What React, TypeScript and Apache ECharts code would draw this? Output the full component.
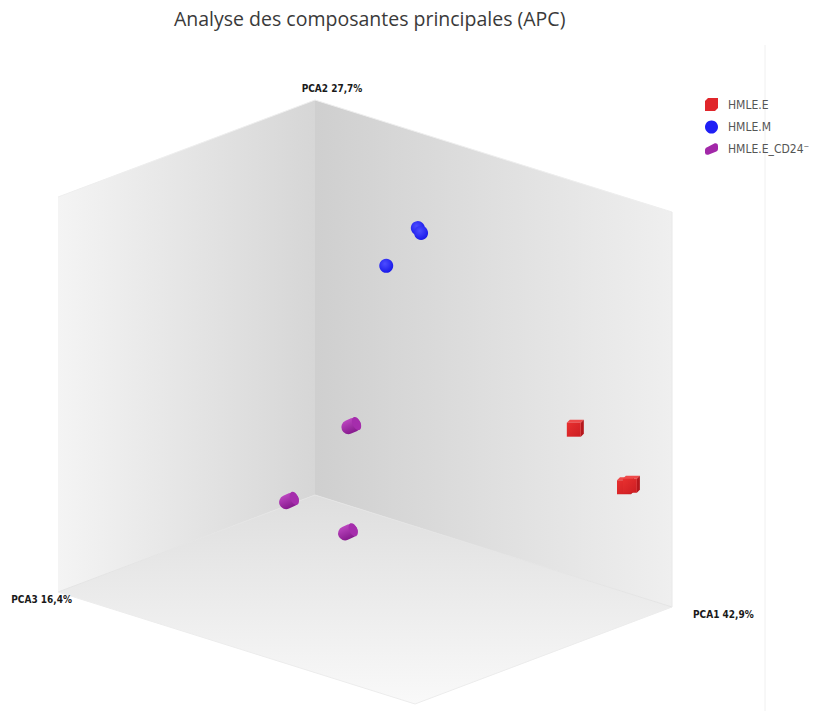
import React, { useEffect, useRef } from 'react';
import * as echarts from 'echarts';

// ---- data ----
const seriesNames = ['HMLE.E', 'HMLE.M', 'HMLE.E_CD24⁻'];
const seriesColors = ['#e0262b', '#1f1ff5', '#a228a8'];
// PCA scores: [PCA1, PCA2, PCA3]
const hmleE = [
  [35.5, 0.7, -10],
  [38.1, -9.7, -17.5],
  [37.7, -10.0, -19],
];
const hmleM = [
  [0.3, 23.7, -10],
  [2.2, 23.5, -9],
  [-1.0, 19.0, -5],
];
const hmleCD24 = [
  [-20.4, -12.4, -15],
  [-25.7, -22.7, -7.5],
  [1.9, -17.9, 5],
];
const axisNames = ['PCA1 42,9%', 'PCA2 27,7%', 'PCA3 16,4%'];
const axisMin = [-40, -30, -25];
const axisMax = [40, 30, 25];
const titleText = 'Analyse des composantes principales (APC)';

// ---- layout of the orthographic projection (plane units = px) ----
const ORIGIN = [315, 495];
const V1 = [357, 112];
const V2 = [0, -395];
const V3 = [-257, 97];

function project(p: number[]) {
  const u = p.map((v, i) => (v - axisMin[i]) / (axisMax[i] - axisMin[i]));
  return [
    ORIGIN[0] + u[0] * V1[0] + u[1] * V2[0] + u[2] * V3[0],
    ORIGIN[1] + u[0] * V1[1] + u[1] * V2[1] + u[2] * V3[1],
  ];
}

const lg = (x2: number, y2: number, c1: string, c2: string) =>
  new echarts.graphic.LinearGradient(0, 0, x2, y2, [
    { offset: 0, color: c1 },
    { offset: 1, color: c2 },
  ]);

function pt(api: any) {
  return api.coord(project([api.value(0), api.value(1), api.value(2)]));
}

function cubeItem(_p: any, api: any) {
  const [x, y] = pt(api);
  return {
    type: 'group',
    children: [
      { type: 'polygon', shape: { points: [[x - 8, y - 5], [x - 5, y - 8], [x + 9, y - 8], [x + 6, y - 5]] }, style: { fill: '#ee4a4a' } },
      { type: 'polygon', shape: { points: [[x + 6, y - 5], [x + 9, y - 8], [x + 9, y + 6], [x + 6, y + 9]] }, style: { fill: '#b5171c' } },
      { type: 'rect', shape: { x: x - 8, y: y - 5, width: 14, height: 14 }, style: { fill: lg(1, 1, '#e8302f', '#cc1d22') } },
    ],
  };
}

function sphereItem(_p: any, api: any) {
  const [x, y] = pt(api);
  return {
    type: 'circle',
    shape: { cx: x, cy: y, r: 7 },
    style: {
      fill: new echarts.graphic.RadialGradient(0.4, 0.35, 0.75, [
        { offset: 0, color: '#4c4cff' },
        { offset: 1, color: '#1212e6' },
      ]),
    },
  };
}

function cylinderItem(_p: any, api: any) {
  const [x, y] = pt(api);
  return {
    type: 'group',
    x,
    y,
    rotation: 0.42,
    children: [
      { type: 'rect', shape: { x: -10, y: -7, width: 20, height: 14, r: 7 }, style: { fill: lg(0, 1, '#bb45bf', '#861a8d') } },
      { type: 'ellipse', shape: { cx: 6, cy: 0, rx: 4, ry: 7 }, style: { fill: '#a52dac' } },
    ],
  };
}

function boxItem(_p: any, api: any) {
  const c = (p: number[]) => api.coord(project(p));
  const [a0, b0, c0] = axisMin;
  const [a1, b1, c1] = axisMax;
  const O = c([a0, b0, c0]);
  const X = c([a1, b0, c0]);
  const Y = c([a0, b1, c0]);
  const Z = c([a0, b0, c1]);
  const XY = c([a1, b1, c0]);
  const YZ = c([a0, b1, c1]);
  const XZ = c([a1, b0, c1]);
  const line = (p: number[], q: number[], stroke: string) => ({
    type: 'line',
    shape: { x1: p[0], y1: p[1], x2: q[0], y2: q[1] },
    style: { stroke, lineWidth: 1 },
  });
  return {
    type: 'group',
    children: [
      { type: 'polygon', shape: { points: [O, Z, YZ, Y] }, style: { fill: lg(1, 0, '#f4f4f4', '#d6d6d6') } },
      { type: 'polygon', shape: { points: [O, X, XY, Y] }, style: { fill: lg(1, 0, '#cfcfcf', '#efefef') } },
      { type: 'polygon', shape: { points: [O, X, XZ, Z] }, style: { fill: lg(0, 1, '#dedede', '#f9f9f9') } },
      line(O, X, '#e4e4e4'),
      line(O, Z, '#e4e4e4'),
      line(X, XZ, '#ececec'),
      line(Z, XZ, '#ececec'),
      line(Y, YZ, '#eeeeee'),
      line(Y, XY, '#eeeeee'),
      line(X, XY, '#e8e8e8'),
    ],
  };
}

const LABEL_OFFSET: [number, number, string][] = [
  [21, 7, 'left'],
  [17, -12, 'center'],
  [14, 7, 'right'],
];

function axisLabelItem(params: any, api: any) {
  const i = params.dataIndex;
  const end = axisMin.slice();
  end[i] = axisMax[i];
  const [x, y] = api.coord(project(end));
  const [dx, dy, align] = LABEL_OFFSET[i];
  return {
    type: 'text',
    x: x + dx,
    y: y + dy,
    style: {
      text: axisNames[i],
      fill: '#1a1a1a',
      font: 'bold 10px "Liberation Sans Narrow", "DejaVu Sans Condensed", Arial, sans-serif',
      align,
      verticalAlign: 'middle',
    },
  };
}

const legendIcons = [
  'path://M0,3 L3,0 L13,0 L13,10 L10,13 L0,13 Z',
  'circle',
  'path://M2,6 L12,1 Q16,0 16,4 L16,8 Q16,10 14,11 L4,15 Q0,16 0,12 L0,9 Q0,7 2,6 Z',
];

export default function App() {
  const ref = useRef<HTMLDivElement>(null);
  useEffect(() => {
    document.body.style.margin = '0';
    const chart = echarts.init(ref.current!, null, { renderer: 'svg' });
    const groups = [hmleE, hmleM, hmleCD24];
    const renders = [cubeItem, sphereItem, cylinderItem];
    chart.setOption({
      animation: false,
      backgroundColor: '#ffffff',
      title: {
        text: titleText,
        left: 169,
        top: 3,
        textStyle: { fontFamily: '"Open Sans", sans-serif', fontSize: 19.5, fontWeight: 'normal', color: '#3a3a3a' },
      },
      grid: { left: 0, right: 0, top: 0, bottom: 0 },
      xAxis: { type: 'value', min: 0, max: 820, show: false },
      yAxis: { type: 'value', min: 0, max: 711, inverse: true, show: false },
      legend: {
        orient: 'vertical',
        left: 705,
        top: 98,
        padding: 0,
        itemWidth: 13,
        itemHeight: 13,
        itemGap: 9.5,
        selectedMode: false,
        textStyle: { fontFamily: '"Liberation Sans Narrow", "DejaVu Sans Condensed", sans-serif', fontSize: 12, color: '#555555', padding: [0, 0, 0, 5] },
        data: seriesNames.map((name, i) => ({ name, icon: legendIcons[i], itemStyle: { color: seriesColors[i] } })),
      },
      graphic: [
        { type: 'line', shape: { x1: 765, y1: 45, x2: 765, y2: 711 }, style: { stroke: '#f0f0f0', lineWidth: 1 }, silent: true },
      ],
      series: [
        { type: 'custom', name: 'box', silent: true, data: [[0, 0]], renderItem: boxItem, z: 1 },
        ...groups.map((g, i) => ({
          type: 'custom',
          name: seriesNames[i],
          itemStyle: { color: seriesColors[i] },
          data: g,
          renderItem: renders[i],
          z: 3,
        })),
        { type: 'custom', name: 'axes', silent: true, data: axisNames.map((_, i) => [i, 0]), renderItem: axisLabelItem, z: 2 },
      ],
    });
    return () => chart.dispose();
  }, []);
  return <div ref={ref} style={{ width: 820, height: 711 }} />;
}
